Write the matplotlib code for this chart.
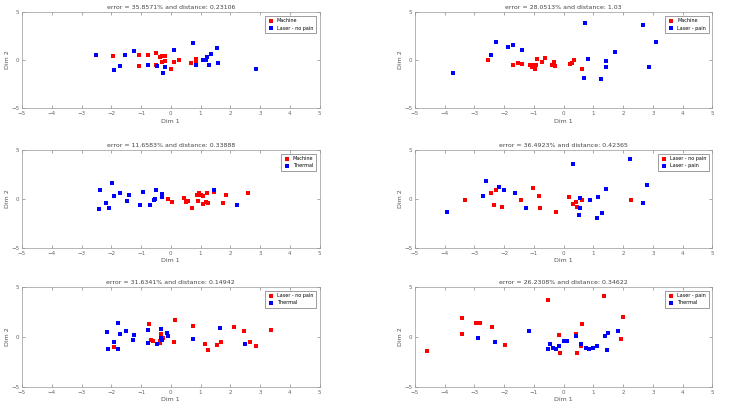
import matplotlib
matplotlib.use("Agg")
from matplotlib import pyplot as plt

# titles and legend labels (first series red, second blue)
titles = ["error = 35.8571% and distance: 0.23106",
          "error = 28.0513% and distance: 1.03",
          "error = 11.6583% and distance: 0.33888",
          "error = 36.4923% and distance: 0.42365",
          "error = 31.6341% and distance: 0.14942",
          "error = 26.2308% and distance: 0.34622"]
labels = [("Machine", "Laser - no pain"),
          ("Machine", "Laser - pain"),
          ("Machine", "Thermal"),
          ("Laser - no pain", "Laser - pain"),
          ("Laser - no pain", "Thermal"),
          ("Laser - pain", "Thermal")]

# plot 1
p1_red_x = [-1.95, -1.08, -1.08, -0.78, -0.50, -0.36, -0.30, -0.18, -0.28, -0.18, -0.50, 0.11, 0.28, 0.02, 0.67, 0.84, 0.84]
p1_red_y = [0.38, 0.48, -0.61, 0.48, 0.72, 0.31, 0.38, 0.38, -0.24, -0.10, -0.48, -0.24, 0.0, -0.99, -0.31, 0.10, -0.07]
p1_blue_x = [-2.51, -1.90, -1.70, -1.53, -1.22, -0.77, -0.48, -0.25, -0.19, 0.10, 0.76, 0.84, 1.08, 1.19, 1.23, 1.28, 1.36, 1.54, 1.60, 2.87]
p1_blue_y = [0.55, -1.02, -0.61, 0.51, 0.89, -0.58, -0.68, -1.33, -0.75, 1.06, 1.77, -0.55, 0.03, -0.03, 0.31, -0.58, 0.65, 1.26, -0.31, -0.92]

# plot 2
p2_red_x = [-2.53, -1.69, -1.54, -1.40, -1.12, -1.07, -1.01, -0.96, -0.92, -0.88, -0.74, -0.64, -0.39, -0.34, -0.30, 0.20, 0.28, 0.36, 0.61]
p2_red_y = [0.03, -0.51, -0.31, -0.41, -0.58, -0.75, -0.51, -0.99, -0.58, 0.10, -0.17, 0.17, -0.51, -0.24, -0.65, -0.38, -0.31, -0.03, -0.99]
p2_blue_x = [-3.73, -2.45, -2.27, -1.88, -1.70, -1.39, 0.67, 0.73, 0.81, 1.26, 1.42, 1.43, 1.71, 2.66, 2.87, 3.09]
p2_blue_y = [-1.34, 0.48, 1.85, 1.30, 1.51, 0.99, -1.85, 3.87, 0.10, -2.02, -0.10, -0.72, 0.86, 3.63, -0.72, 1.82]

# plot 3
p3_red_x = [-0.11, 0.03, 0.45, 0.50, 0.59, 0.70, 0.87, 0.92, 0.95, 1.00, 1.08, 1.09, 1.17, 1.21, 1.26, 1.46, 1.75, 1.84, 2.59]
p3_red_y = [0.0, -0.31, 0.10, -0.31, -0.24, -0.98, 0.34, -0.24, 0.54, 0.34, 0.27, -0.51, -0.31, 0.58, -0.47, 0.68, -0.41, 0.34, 0.61]
p3_blue_x = [-2.40, -2.37, -2.18, -2.09, -1.98, -1.91, -1.70, -1.48, -1.42, -1.03, -0.95, -0.70, -0.56, -0.52, -0.50, -0.31, -0.30, 1.45, 2.24]
p3_blue_y = [-1.05, 0.85, -0.41, -0.92, 1.56, 0.27, 0.61, -0.24, 0.34, -0.64, 0.68, -0.64, -0.17, 0.0, 0.85, 0.17, 0.44, 0.88, -0.68]

# plot 4
p4_red_x = [-3.31, -2.45, -2.34, -2.29, -2.08, -1.44, -1.03, -0.82, -0.79, -0.25, 0.17, 0.30, 0.42, 0.45, 0.62, 0.88, 2.25]
p4_red_y = [-0.17, 0.54, -0.64, 0.88, -0.85, -0.17, 1.05, 0.27, -0.98, -1.36, 0.17, -0.51, -0.34, -0.85, -0.17, -0.17, -0.14]
p4_blue_x = [-3.91, -2.72, -2.62, -2.17, -2.02, -1.64, -1.27, 0.31, 0.52, 0.56, 0.54, 0.90, 1.16, 1.12, 1.28, 1.42, 2.24, 2.65, 2.79]
p4_blue_y = [-1.36, 0.27, 1.86, 1.22, 0.88, 0.58, -0.92, 3.56, -1.69, 0.10, -0.92, -0.17, 0.20, -1.93, -1.42, 1.02, 4.07, -0.41, 1.39]

# plot 5
p5_red_x = [-1.90, -0.73, -0.67, -0.59, -0.36, -0.36, -0.32, -0.26, 0.13, 0.12, 0.76, 1.15, 1.24, 1.55, 1.69, 2.14, 2.46, 2.65, 2.85, 3.36]
p5_red_y = [-0.97, 1.27, -0.27, -0.40, -0.40, -0.60, 0.33, -0.07, 1.67, -0.53, 1.07, -0.67, -1.27, -0.77, -0.47, 0.93, 0.57, -0.53, -0.90, 0.67]
p5_blue_x = [-2.15, -2.12, -1.90, -1.79, -1.79, -1.71, -1.51, -1.27, -1.22, -0.78, -0.75, -0.45, -0.33, -0.32, -0.31, -0.13, -0.11, 0.75, 1.65, 2.48]
p5_blue_y = [0.50, -1.20, -0.47, -1.17, 1.40, 0.33, 0.57, -0.33, 0.17, -0.57, 0.63, -0.67, -0.10, 0.73, -0.27, 0.40, 0.07, -0.23, 0.90, -0.70]

# plot 6
p6_red_x = [-4.58, -3.43, -3.43, -2.94, -2.81, -2.40, -1.97, -0.52, -0.15, -0.11, 0.43, 0.45, 0.63, 0.58, 1.35, 1.91, 1.98]
p6_red_y = [-1.43, 1.83, 0.27, 1.33, 1.40, 1.00, -0.83, 3.67, 0.17, -1.60, 0.27, -1.60, 1.27, -0.87, 4.10, -0.17, 1.93]
p6_blue_x = [-2.88, -2.30, -1.16, -0.51, -0.45, -0.35, -0.25, -0.17, 0.02, 0.11, 0.42, 0.58, 0.75, 0.85, 0.99, 1.12, 1.40, 1.44, 1.48, 1.81]
p6_blue_y = [-0.10, -0.50, 0.57, -1.23, -0.73, -1.07, -1.17, -0.93, -0.43, -0.40, 0.10, -0.73, -1.07, -1.23, -1.07, -0.90, 0.10, -1.27, 0.43, 0.60]

red_x = [p1_red_x, p2_red_x, p3_red_x, p4_red_x, p5_red_x, p6_red_x]
red_y = [p1_red_y, p2_red_y, p3_red_y, p4_red_y, p5_red_y, p6_red_y]
blue_x = [p1_blue_x, p2_blue_x, p3_blue_x, p4_blue_x, p5_blue_x, p6_blue_x]
blue_y = [p1_blue_y, p2_blue_y, p3_blue_y, p4_blue_y, p5_blue_y, p6_blue_y]

# axes positions [left, bottom, width, height] in figure fraction
lefts = [0.030, 0.566]
bottoms = [0.736, 0.394, 0.054]
width = 0.406
heights = [0.235, 0.240, 0.245]


def main():
    fig = plt.figure(figsize=(7.33, 4.09), dpi=100)
    for i in range(6):
        row, col = i // 2, i % 2
        ax = fig.add_axes([lefts[col], bottoms[row], width, heights[row]])
        ax.scatter(red_x[i], red_y[i], marker='s', s=5, color='#ff0000',
                   label=labels[i][0], linewidths=0)
        ax.scatter(blue_x[i], blue_y[i], marker='s', s=5, color='#0000ff',
                   label=labels[i][1], linewidths=0)
        ax.set_xlim(-5, 5)
        ax.set_ylim(-5, 5)
        ax.set_xticks(range(-5, 6))
        ax.set_yticks([-5, 0, 5])
        ax.tick_params(direction='in', top=True, right=True, labelsize=4,
                       length=2, width=0.4, colors='#666666', pad=2)
        for sp in ax.spines.values():
            sp.set_linewidth(0.5)
            sp.set_color('#999999')
        ax.set_title(titles[i], fontsize=4.5, pad=2, color='#444444')
        ax.set_xlabel("Dim 1", fontsize=4.5, labelpad=2, color='#555555')
        ax.set_ylabel("Dim 2", fontsize=4.5, labelpad=1, color='#555555')
        leg = ax.legend(loc='upper right', fontsize=3.5, fancybox=False,
                        framealpha=1, edgecolor='#555555', markerscale=1.2,
                        handletextpad=0.5, borderpad=0.5, handlelength=1.5,
                        borderaxespad=0.8)
        leg.get_frame().set_linewidth(0.4)
    fig.savefig("out.png", dpi=100)


if __name__ == "__main__":
    main()
